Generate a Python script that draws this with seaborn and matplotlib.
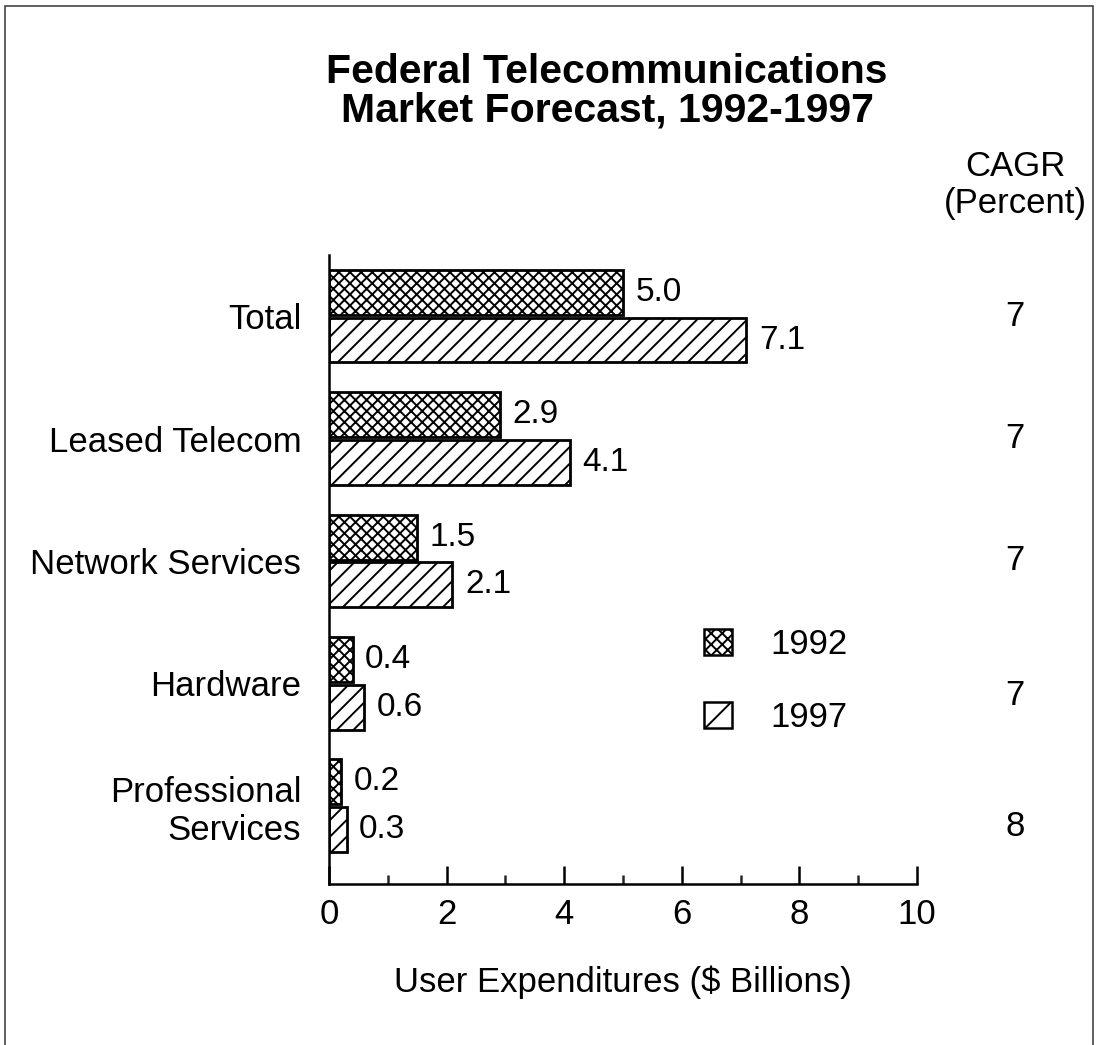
import matplotlib
matplotlib.use("Agg")
import matplotlib.pyplot as plt
import matplotlib.transforms as mtransforms
import seaborn as sns
import pandas as pd
from matplotlib.patches import Patch, Rectangle
from matplotlib.ticker import MultipleLocator

# Market segments, top to bottom
segments = ["Total", "Leased Telecom", "Network Services", "Hardware",
            "Professional\nServices"]
spend_1992 = [5.0, 2.9, 1.5, 0.4, 0.2]   # $ billions
spend_1997 = [7.1, 4.1, 2.1, 0.6, 0.3]   # $ billions
years = ["1992", "1997"]
cagr = ["7", "7", "7", "7", "8"]          # percent
x_ticks = [0, 2, 4, 6, 8, 10]

sns.set_theme(style="white")
plt.rcParams["font.family"] = ["Liberation Sans", "DejaVu Sans"]
plt.rcParams["hatch.linewidth"] = 1.4
plt.rcParams["text.color"] = "black"

df = pd.DataFrame({
    "Segment": segments * 2,
    "Year": [years[0]] * len(segments) + [years[1]] * len(segments),
    "Spend": spend_1992 + spend_1997,
})

W, H = 1098, 1045
fig = plt.figure(figsize=(W / 100, H / 100), dpi=100)
fig.patch.set_facecolor("white")
ax = fig.add_axes([329 / W, 1 - 884 / H, 588 / W, 629 / H])

sns.barplot(data=df, y="Segment", x="Spend", hue="Year", hue_order=years,
            order=segments, orient="h", width=0.78, gap=0.06,
            palette=["white", "white"], saturation=1, edgecolor="black",
            linewidth=2, legend=False, ax=ax)

hatches = ["xxx", "//"]
for cont, h in zip(ax.containers, hatches):
    for bar in cont:
        bar.set_hatch(h)
        bar.set_facecolor("white")
        bar.set_edgecolor("black")
    ax.bar_label(cont, fmt="%.1f", padding=9, fontsize=24)

ax.set_xlim(0, 10)
ax.set_ylim(4.64, -0.5)
ax.set_xticks(x_ticks)
ax.xaxis.set_minor_locator(MultipleLocator(1))
ax.tick_params(axis="x", which="major", direction="in", length=13, width=1.8,
               pad=10, labelsize=25, colors="black", bottom=True)
ax.tick_params(axis="x", which="minor", direction="in", length=6.5, width=1.8,
               bottom=True)
ax.tick_params(axis="y", length=0, pad=20, labelsize=25, colors="black")
for side in ["top", "right"]:
    ax.spines[side].set_visible(False)
for side in ["left", "bottom"]:
    ax.spines[side].set_color("black")
    ax.spines[side].set_linewidth(1.8)
ax.set_ylabel("")
ax.set_xlabel("User Expenditures ($ Billions)", fontsize=25, labelpad=25,
              color="black")

# CAGR column on the right
cagr_offsets = [0, 0, 0, 0.1, 0.17]
blend = mtransforms.blended_transform_factory(fig.transFigure, ax.transData)
for i, (v, off) in enumerate(zip(cagr, cagr_offsets)):
    ax.text(1015 / W, i + off, v, transform=blend, ha="center", va="center",
            fontsize=25, clip_on=False)
fig.text(1015 / W, 1 - 167 / H, "CAGR", ha="center", va="center", fontsize=25)
fig.text(1015 / W, 1 - 203 / H, "(Percent)", ha="center", va="center",
         fontsize=25)

# Title
fig.text(607 / W, 1 - 72 / H, "Federal Telecommunications", ha="center",
         va="center", fontsize=29.5, fontweight="bold")
fig.text(607 / W, 1 - 110 / H, "Market Forecast, 1992-1997", ha="center",
         va="center", fontsize=29.5, fontweight="bold")

# Legend
handles = [Patch(facecolor="white", edgecolor="black", hatch=h, linewidth=1.8)
           for h in ["xxx", "/"]]
ax.legend(handles, years, loc="upper left",
          bbox_to_anchor=(704 / W, 1 - 628 / H), bbox_transform=fig.transFigure,
          frameon=False, fontsize=25, handlelength=0.8, handleheight=0.8,
          handletextpad=1.1, labelspacing=1.15, borderpad=0, borderaxespad=0)

# Frame around the whole graphic
fig.add_artist(Rectangle((5 / W, -0.02), 1088 / W, 1 - 6 / H + 0.02,
                         transform=fig.transFigure, fill=False,
                         edgecolor="#444444", linewidth=1.2))

fig.savefig("out.png", dpi=100)
